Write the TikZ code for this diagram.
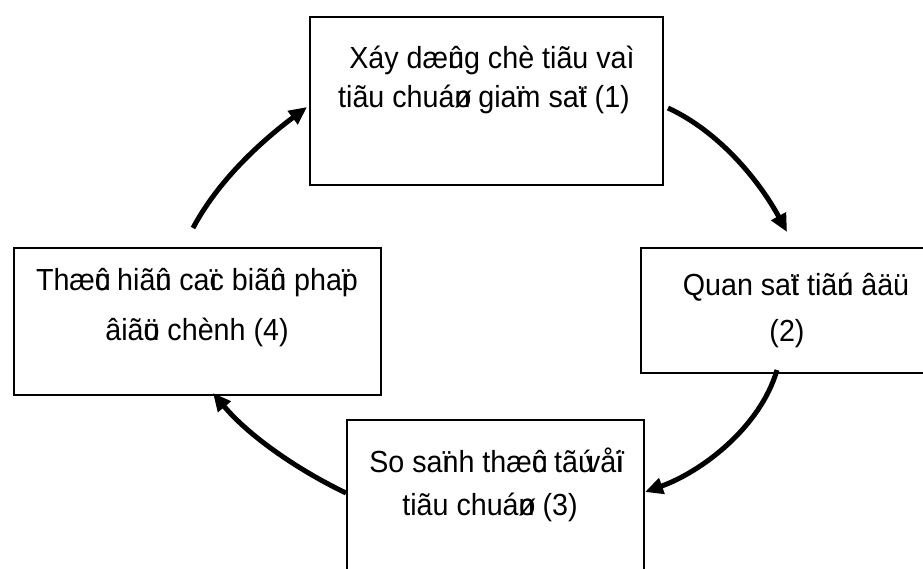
\documentclass[tikz,border=0pt]{standalone}
\usepackage{fontspec}
\setmainfont{Liberation Sans}
\newfontfamily\boxfont[FakeStretch=0.94]{Liberation Sans}
\newcommand\zw[1]{\rlap{#1}}
\usetikzlibrary{arrows.meta}
\begin{document}
\begin{tikzpicture}[x=1pt,y=-1pt,
  box/.style={draw, line width=1.5pt, inner sep=0pt, anchor=north west},
  txt/.style={font=\boxfont\fontsize{30.5}{36}\selectfont, anchor=base, inner sep=0pt},
  flow/.style={line width=5pt, -{Triangle[length=18pt,width=16pt]}}]
\useasboundingbox (0,0) rectangle (923,568);
% boxes
\node[box, minimum width=353pt, minimum height=168pt] (b1) at (309,16) {};
\node[box, minimum width=320pt, minimum height=125pt] (b2) at (640,247) {};
\node[box, minimum width=297pt, minimum height=170pt] (b3) at (346,419) {};
\node[box, minimum width=367pt, minimum height=147pt] (b4) at (13,247) {};
% texts
\node[txt] (t1a) at (492,68) {Xáy dæ\zw{û}ng chè tiãu vaì};
\node[txt] (t1b) at (484,107) {tiãu chuá\zw{ø}n gia\zw{ï}m sa\zw{ï}t (1)};
\node[txt] (t2a) at (796,295) {Quan sa\zw{ï}t tiã\zw{ú}n âäü};
\node[txt] (t2b) at (787,341) {(2)};
\node[txt] (t3a) at (496,472) {So sa\zw{ï}nh thæ\zw{û}c tã\zw{ú} vå\zw{ï}i};
\node[txt] (t3b) at (490,515) {tiãu chuá\zw{ø}n (3)};
\node[txt] (t4a) at (197,290) {Thæ\zw{û}c hiã\zw{û}n ca\zw{ï}c biã\zw{û}n pha\zw{ï}p};
\node[txt] (t4b) at (197,340) {âiã\zw{ö}u chènh (4)};
% arrow end points
\coordinate (s1) at (193,228);
\coordinate (e1) at (307,107);
\coordinate (s2) at (668,108);
\coordinate (e2) at (787,232);
\coordinate (s3) at (777,370);
\coordinate (e3) at (645,492);
\coordinate (s4) at (346,493);
\coordinate (e4) at (213,393);
\draw[flow] (s1) .. controls (219,179) and (263,140) .. (e1);
\draw[flow] (s2) .. controls (720,132) and (760,182) .. (e2);
\draw[flow] (s3) .. controls (760,428) and (701,472) .. (e3);
\draw[flow] (s4) .. controls (296,469) and (248,435) .. (e4);
\end{tikzpicture}
\end{document}
